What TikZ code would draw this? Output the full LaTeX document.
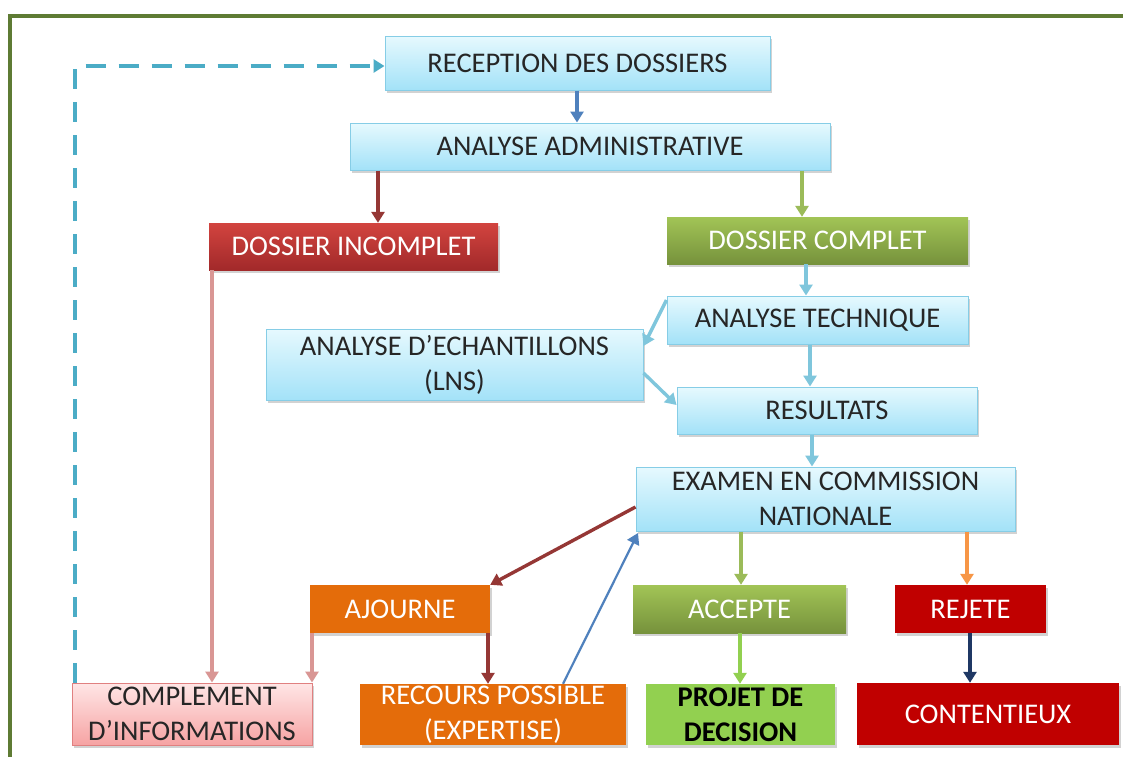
\documentclass[tikz,border=0pt]{standalone}
\usepackage{fontspec}
\setmainfont{Carlito}
\usetikzlibrary{arrows.meta,shadows}
\definecolor{lbtop}{HTML}{E6F9FE}
\definecolor{lbbot}{HTML}{A3E2F8}
\definecolor{lbline}{HTML}{86CDE6}
\definecolor{redtop}{HTML}{D2443F}
\definecolor{redbot}{HTML}{A2292A}
\definecolor{grtop}{HTML}{A2C456}
\definecolor{grbot}{HTML}{76923C}
\definecolor{orng}{HTML}{E46C0A}
\definecolor{dred}{HTML}{C00000}
\definecolor{pktop}{HTML}{FFE6E6}
\definecolor{pkbot}{HTML}{F6A3A3}
\definecolor{pkline}{HTML}{E08080}
\definecolor{lgreen}{HTML}{92D050}
\definecolor{framecol}{HTML}{5E7B34}
\definecolor{ablue}{HTML}{4F81BD}
\definecolor{abrown}{HTML}{953735}
\definecolor{agreen}{HTML}{9BBB59}
\definecolor{acyan}{HTML}{7FC6DC}
\definecolor{apink}{HTML}{D99694}
\definecolor{aorange}{HTML}{F79646}
\definecolor{anavy}{HTML}{1F3864}
\definecolor{dashcol}{HTML}{4BACC6}
\tikzset{
  box/.style={rectangle, inner sep=0pt, align=center, font=\fontsize{28.5}{35}\selectfont,
    drop shadow={opacity=0.35, shadow xshift=2pt, shadow yshift=-3pt}},
  lblue/.style={box, draw=lbline, line width=1pt, top color=lbtop, bottom color=lbbot, text=black!85},
  redbox/.style={box, top color=redtop, bottom color=redbot, text=white},
  grbox/.style={box, top color=grtop, bottom color=grbot, text=white},
  orbox/.style={box, fill=orng, text=white},
  drbox/.style={box, fill=dred, text=white},
  pkbox/.style={box, draw=pkline, line width=1pt, top color=pktop, bottom color=pkbot, text=black!85},
  lgbox/.style={box, fill=lgreen, text=black, font=\fontsize{28.5}{35}\selectfont\bfseries},
  arr/.style={line width=3.4pt, -{Triangle[length=11pt,width=13pt]}},
}
\begin{document}
\begin{tikzpicture}[x=1pt,y=-1pt]
\useasboundingbox (0,0) rectangle (1123,756);
\fill[white] (0,0) rectangle (1123,756);
\begin{scope}
\clip (0,0) rectangle (1123,756);
\draw[framecol, line width=4pt] (10,16) rectangle (1140,790);
\end{scope}

\node[lblue, minimum width=385, minimum height=54] (rec) at (577.5,63) {RECEPTION DES DOSSIERS};
\node[lblue, minimum width=480, minimum height=47] (adm) at (590,146.5) {ANALYSE ADMINISTRATIVE};
\node[redbox, minimum width=289, minimum height=47] (inc) at (353.5,246.5) {DOSSIER INCOMPLET};
\node[grbox, minimum width=301, minimum height=47] (com) at (817.5,240.5) {DOSSIER COMPLET};
\node[lblue, minimum width=301, minimum height=48] (tec) at (817.5,320) {ANALYSE TECHNIQUE};
\node[lblue, minimum width=377, minimum height=71] (ech) at (454.5,364.5) {ANALYSE D’ECHANTILLONS\\(LNS)};
\node[lblue, minimum width=300, minimum height=47] (res) at (827,410.5) {RESULTATS};
\node[lblue, minimum width=379, minimum height=64] (exa) at (825.5,499) {EXAMEN EN COMMISSION\\NATIONALE};
\node[orbox, minimum width=180, minimum height=48] (ajo) at (400,609) {AJOURNE};
\node[grbox, minimum width=213, minimum height=48] (acc) at (739.5,609) {ACCEPTE};
\node[drbox, minimum width=151, minimum height=48] (rej) at (970.5,609) {REJETE};
\node[pkbox, minimum width=240, minimum height=62] (cpl) at (192,714) {COMPLEMENT\\D’INFORMATIONS};
\node[orbox, minimum width=266, minimum height=61] (rcs) at (493,714.5) {RECOURS POSSIBLE\\(EXPERTISE)};
\node[lgbox, minimum width=189, minimum height=61] (pro) at (740.5,714.5) {PROJET DE\\DECISION};
\node[drbox, minimum width=262, minimum height=62] (cnt) at (988,714) {CONTENTIEUX};

\draw[arr, ablue] (577,0 |- rec.south) -- (577,0 |- adm.north);
\draw[arr, abrown] (378,0 |- adm.south) -- (378,0 |- inc.north);
\draw[arr, agreen] (802,0 |- adm.south) -- (802,0 |- com.north);
\draw[arr, acyan] (806,0 |- com.south) -- (806,0 |- tec.north);
\draw[arr, acyan] (tec.west |- 0,300) -- (ech.east |- 0,346);
\draw[arr, acyan] (ech.east |- 0,373) -- (res.west |- 0,405);
\draw[arr, acyan] (810,0 |- tec.south) -- (810,0 |- res.north);
\draw[arr, acyan] (812,0 |- res.south) -- (812,0 |- exa.north);
\draw[arr, abrown] (exa.west |- 0,507) -- (ajo.north east);
\draw[arr, ablue, line width=2.2pt] (563,0 |- rcs.north) -- (638,533);
\draw[arr, abrown] (488,0 |- ajo.south) -- (488,0 |- rcs.north);
\draw[arr, apink] (312,0 |- ajo.south) -- (312,0 |- cpl.north);
\draw[arr, apink] (212,0 |- inc.south) -- (212,0 |- cpl.north);
\draw[arr, agreen] (741,0 |- exa.south) -- (741,0 |- acc.north);
\draw[arr, aorange] (967,0 |- exa.south) -- (967,0 |- rej.north);
\draw[arr, lgreen] (740,0 |- acc.south) -- (740,0 |- pro.north);
\draw[arr, anavy] (970,0 |- rej.south) -- (970,0 |- cnt.north);
\draw[dashcol, line width=4pt, dash pattern=on 20pt off 13pt, -{Triangle[length=11pt,width=13pt]}]
  (75,0 |- cpl.north) -- (75,66) -- (rec.west |- 0,66);
\end{tikzpicture}
\end{document}
